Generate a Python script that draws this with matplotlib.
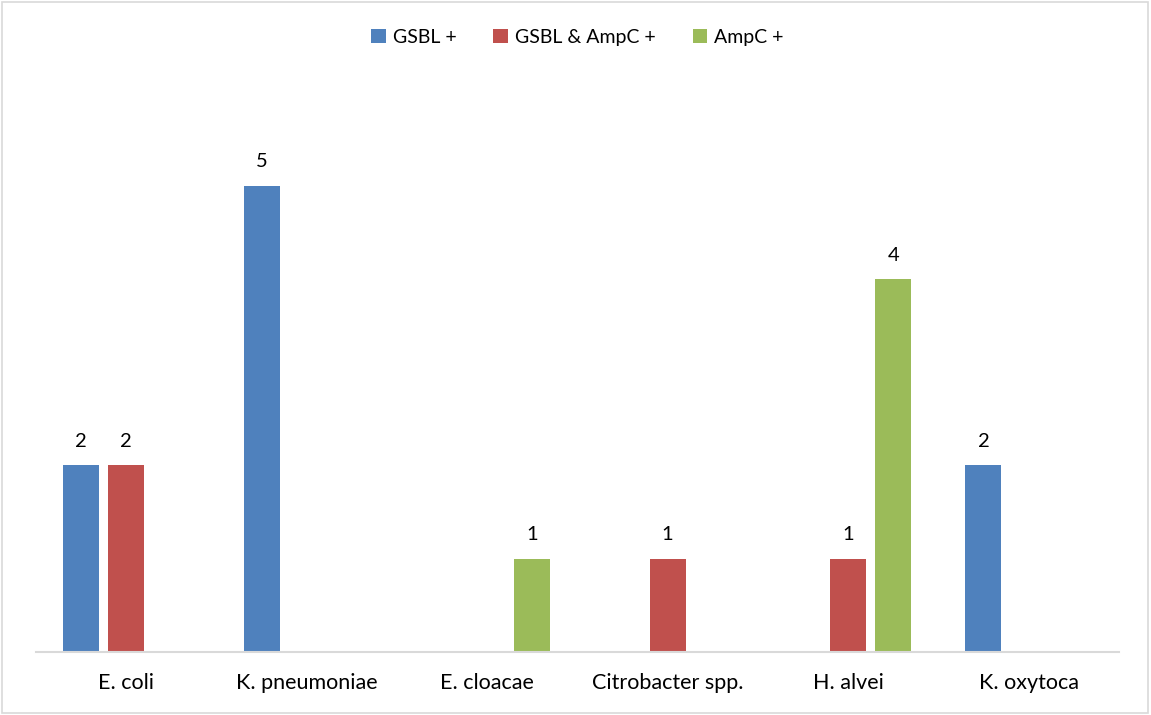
import numpy as np
import matplotlib
matplotlib.use("Agg")
import matplotlib.pyplot as plt
from matplotlib.patches import Rectangle

plt.rcParams['font.family'] = ['Lato', 'DejaVu Sans']

categories = ['E. coli', 'K. pneumoniae', 'E. cloacae', 'Citrobacter spp.', 'H. alvei', 'K. oxytoca']
series_names = ['GSBL +', 'GSBL & AmpC +', 'AmpC +']
gsbl = [2, 5, 0, 0, 0, 2]
gsbl_ampc = [2, 0, 0, 1, 1, 0]
ampc = [0, 0, 1, 0, 4, 0]
colors = ['#4f81bd', '#c0504d', '#9bbb59']

fig = plt.figure(figsize=(11.51, 7.15), dpi=100)
ax = fig.add_axes([0.0313, 0.088, 0.9407, 0.783])

x = np.arange(len(categories))
width = 0.2
offsets = [-0.25, 0.0, 0.25]

for vals, name, col, off in zip([gsbl, gsbl_ampc, ampc], series_names, colors, offsets):
    bars = ax.bar(x + off, vals, width, color=col, label=name, linewidth=0)
    for b, v in zip(bars, vals):
        if v > 0:
            ax.annotate(str(v), (b.get_x() + b.get_width() / 2, v),
                        xytext=(0, 11), textcoords='offset points',
                        ha='center', va='bottom', fontsize=14.5, color='#000000')

ax.set_xlim(-0.5, len(categories) - 0.5)
ax.set_ylim(0, 6)
ax.set_yticks([])
ax.set_xticks(x)
ax.set_xticklabels(categories, fontsize=15.5)
ax.tick_params(axis='x', length=0, pad=15)
for side in ['top', 'right', 'left']:
    ax.spines[side].set_visible(False)
ax.spines['bottom'].set_color('#d9d9d9')
ax.spines['bottom'].set_linewidth(1.5)

ax.legend(loc='upper center', bbox_to_anchor=(0.5, 1.145), ncol=3, frameon=False,
          fontsize=14, handlelength=0.75, handleheight=0.75, handletextpad=0.35,
          columnspacing=1.9)

# outer chart border
fig.patches.append(Rectangle((0.002, 0.003), 0.995, 0.994, transform=fig.transFigure,
                             fill=False, edgecolor='#d9d9d9', linewidth=1.2))

fig.savefig('out.png', dpi=100)
